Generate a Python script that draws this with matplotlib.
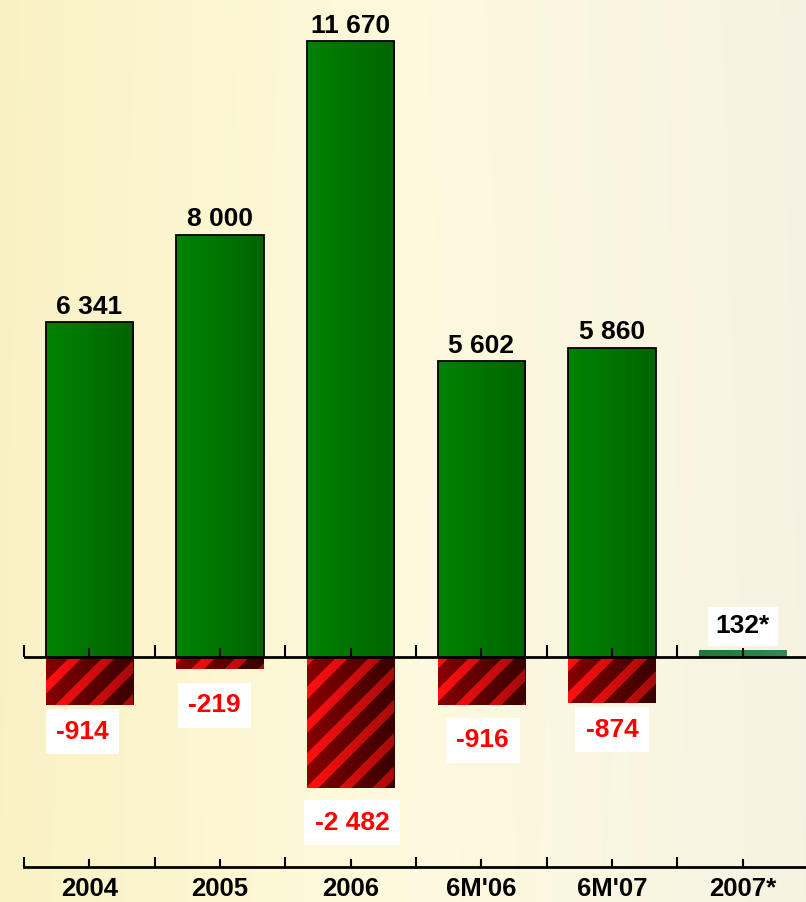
import numpy as np
import matplotlib
matplotlib.use("Agg")
import matplotlib.pyplot as plt
from matplotlib.colors import to_rgb

categories = ["2004", "2005", "2006", "6M'06", "6M'07", "2007*"]
pos_values = [6341, 8000, 11670, 5602, 5860, 132]
pos_labels = ["6 341", "8 000", "11 670", "5 602", "5 860", "132*"]
neg_values = [-914, -219, -2482, -916, -874]
neg_labels = ["-914", "-219", "-2 482", "-916", "-874"]

plt.rcParams["font.family"] = ["Liberation Sans", "DejaVu Sans"]
plt.rcParams["hatch.linewidth"] = 6.5

fig = plt.figure(figsize=(8.06, 9.02), dpi=100)

# background
bg = fig.add_axes([0, 0, 1, 1], zorder=0)
gx = np.linspace(0, 1, 400)
left = np.array([250, 242, 196]) / 255
mid = np.array([254, 250, 222]) / 255
right = np.array([246, 243, 228]) / 255
row = np.where(gx[:, None] < 0.5,
               left + (mid - left) * (gx[:, None] / 0.5),
               mid + (right - mid) * ((gx[:, None] - 0.5) / 0.5))
gy = np.linspace(0, 1, 200)[:, None, None]
img = row[None, :, :] * (1 - 0.03 * (1 - gy)) + np.array([0.94, 0.9, 0.78]) * 0.03 * (1 - gy)
bg.imshow(img, aspect="auto", extent=[0, 1, 0, 1], origin="upper")
bg.axis("off")

ax = fig.add_axes([24 / 806, 35 / 902, 784 / 806, 867 / 902], zorder=1)
ax.patch.set_alpha(0)
x = np.arange(len(categories))
w = 0.667
ylim = (-3978, 12447)
xlim = (-0.5, 5.5)


def grad(c1, c2, n=60):
    a, b = np.array(to_rgb(c1)), np.array(to_rgb(c2))
    t = np.linspace(0, 1, n)[:, None]
    return (a + (b - a) * t)[None, :, :]


def fill_bar(rect, c1, c2, z):
    x0, y0 = rect.get_x(), rect.get_y()
    x1, y1 = x0 + rect.get_width(), y0 + rect.get_height()
    im = ax.imshow(grad(c1, c2), aspect="auto", extent=[x0, x1, min(y0, y1), max(y0, y1)], zorder=z)
    im.set_clip_path(rect)


# green bars
green = ax.bar(x[:5], pos_values[:5], w, facecolor="none", edgecolor="black", linewidth=1.3, zorder=4)
for r in green:
    fill_bar(r, "#008200", "#006500", 2)
small = ax.bar(x[5:], pos_values[5:], w, facecolor="none", edgecolor="none", zorder=4)
for r in small:
    fill_bar(r, "#1d7a3a", "#2e8b57", 2)

# red hatched bars
red_base = ax.bar(x[:5], neg_values, w, facecolor="none", edgecolor="none", zorder=4)
for r in red_base:
    fill_bar(r, "#8a0000", "#5a0000", 2)
ax.bar(x[:5], neg_values, w, facecolor="none", edgecolor="#ff1010", hatch="/", linewidth=0, zorder=3)
for r in red_base:
    x0, y0 = r.get_x(), r.get_y()
    x1, y1 = x0 + r.get_width(), y0 + r.get_height()
    ov = np.zeros((1, 60, 4))
    ov[0, :, 3] = np.linspace(0, 0.35, 60)
    im = ax.imshow(ov, aspect="auto", extent=[x0, x1, min(y0, y1), max(y0, y1)], zorder=3.5)
    im.set_clip_path(r)

# zero line with ticks
ax.axhline(0, color="black", linewidth=2, zorder=6)
bounds = np.arange(-0.5, 6, 1.0)
ax.plot(bounds, np.zeros(len(bounds)), ls="none", marker=2, ms=8.6, mew=1.5, color="black", zorder=6, clip_on=False)
ax.plot(x, np.zeros(len(x)), ls="none", marker=2, ms=6.2, mew=1.5, color="black", zorder=6)

# value labels
for xi, v, t in zip(x[:5], pos_values[:5], pos_labels[:5]):
    ax.annotate(t, (xi, v), xytext=(0, 2.5), textcoords="offset points", ha="center", va="bottom",
                fontsize=19, fontweight="bold", color="black", zorder=7)
ax.annotate(pos_labels[5], (x[5], pos_values[5]), xytext=(0, 17), textcoords="offset points",
            ha="center", va="center", fontsize=19, fontweight="bold", color="black", zorder=7,
            bbox=dict(boxstyle="square,pad=0.3", facecolor="white", edgecolor="none"))

neg_dx = [-5, -4, 1, 1, 0]
neg_dy = [19, 26.5, 25, 25, 19]
for xi, v, t, dx, dy in zip(x[:5], neg_values, neg_labels, neg_dx, neg_dy):
    ax.annotate(t, (xi, v), xytext=(dx, -dy), textcoords="offset points", ha="center", va="center",
                fontsize=19, fontweight="bold", color="#ff0000", zorder=7,
                bbox=dict(boxstyle="square,pad=0.4", facecolor="white", edgecolor="none"))

# bottom axis
ax.set_xlim(*xlim)
ax.set_ylim(*ylim)
ax.set_xticks(bounds)
ax.set_xticks(x, categories, minor=True)
ax.tick_params(axis="x", which="major", labelbottom=False, direction="in", length=7, width=1.5)
ax.tick_params(axis="x", which="minor", direction="in", length=6, width=1.5, pad=7.5, labelsize=18.5)
for lab in ax.get_xticklabels(minor=True):
    lab.set_fontweight("bold")
ax.yaxis.set_visible(False)
for s in ["left", "top", "right"]:
    ax.spines[s].set_visible(False)
ax.spines["bottom"].set_linewidth(2)

fig.savefig("out.png", dpi=100)
